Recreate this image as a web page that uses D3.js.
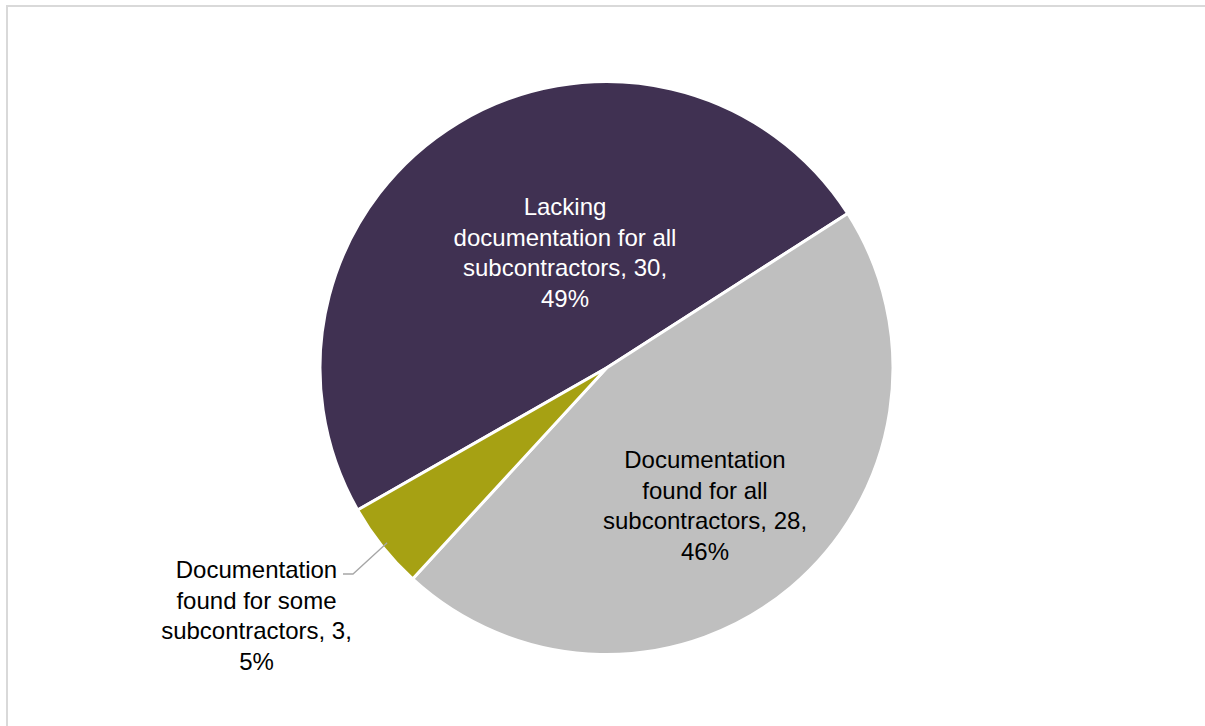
<!DOCTYPE html>
<html><head><meta charset="utf-8">
<script src="https://cdn.jsdelivr.net/npm/d3@7"></script>
<style>html,body{margin:0;padding:0;background:#fff;}svg{display:block;}</style>
</head><body>
<svg id="c" width="1205" height="726"></svg>
<script>
const categories = ["Lacking documentation for all subcontractors", "Documentation found for all subcontractors", "Documentation found for some subcontractors"];
const values = [30, 28, 3];
const percents = ["49%", "46%", "5%"];
const labelLines = [
  ["Lacking", "documentation for all", "subcontractors, 30,", "49%"],
  ["Documentation", "found for all", "subcontractors, 28,", "46%"],
  ["Documentation", "found for some", "subcontractors, 3,", "5%"]
];
const colors = ["#403152", "#bfbfbf", "#a6a113"];
const textColors = ["#ffffff", "#000000", "#000000"];

const svg = d3.select("#c");
// frame
svg.append("line").attr("x1",6).attr("y1",6).attr("x2",1205).attr("y2",6).attr("stroke","#d9d9d9").attr("stroke-width",2);
svg.append("line").attr("x1",7).attr("y1",5).attr("x2",7).attr("y2",726).attr("stroke","#d9d9d9").attr("stroke-width",2);

const cx = 606.5, cy = 368, r = 286.5;
const start = -119.7 * Math.PI/180;
const pie = d3.pie().sort(null).value(d=>d).startAngle(start).endAngle(start + 2*Math.PI);
const arcs = pie(values);
const arc = d3.arc().innerRadius(0).outerRadius(r);
const g = svg.append("g").attr("transform",`translate(${cx},${cy})`);
g.selectAll("path").data(arcs).join("path")
  .attr("d", arc).attr("fill",(d,i)=>colors[i])
  .attr("stroke","#fff").attr("stroke-width",3).attr("stroke-linejoin","round");

// label positions relative to centre (x centre, first line centre y)
const labelPos = [[-41.5, -161], [98.5, 92], [-350, 202]];
const lh = 30.5;
labelLines.forEach((lines, i) => {
  const t = g.append("text").attr("text-anchor","middle")
    .attr("font-family","Liberation Sans, Arial, sans-serif").attr("font-size",24)
    .attr("fill", textColors[i]);
  lines.forEach((s, k) => {
    t.append("tspan").attr("x", labelPos[i][0]).attr("y", labelPos[i][1] + k*lh).attr("dy","0.35em").text(s);
  });
});

// leader line for small slice
const a = arcs[2];
const mid = (a.startAngle + a.endAngle)/2;
const ex = Math.sin(mid)*(r-6), ey = -Math.cos(mid)*(r-6);
g.append("polyline")
  .attr("points", `${343-cx},${574-cy} ${353-cx},${574-cy} ${ex},${ey}`)
  .attr("fill","none").attr("stroke","#a6a6a6").attr("stroke-width",1.3);
</script>
</body></html>
